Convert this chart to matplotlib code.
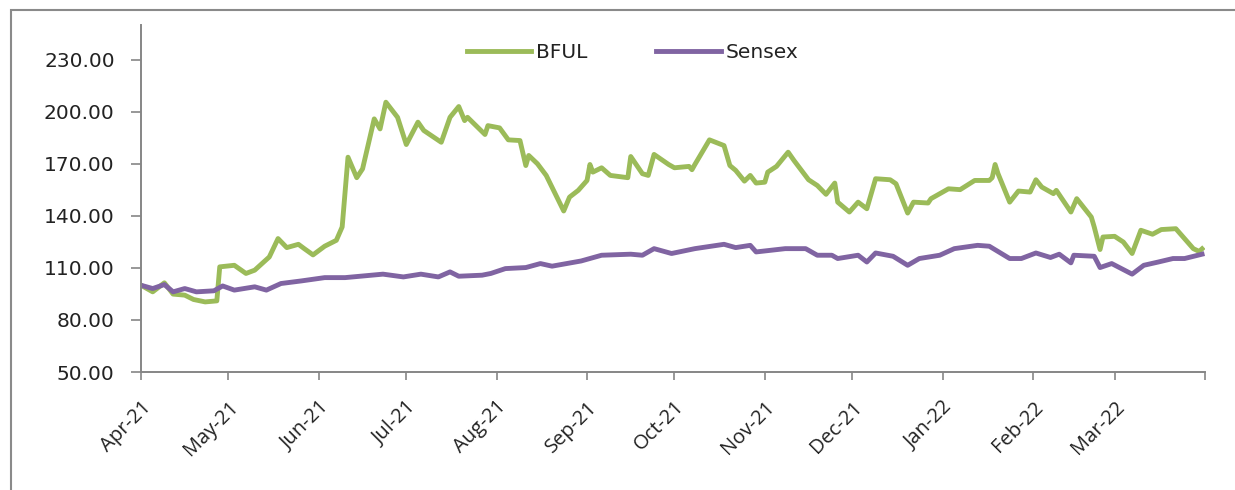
import matplotlib
matplotlib.use("Agg")
import matplotlib.pyplot as plt
import matplotlib.patches as mpatches
import pandas as pd

# BFUL vs Sensex, rebased to 100 on 1-Apr-21
bful_dates = [
    "2021-04-01", "2021-04-05", "2021-04-09", "2021-04-12", "2021-04-16", "2021-04-19",
    "2021-04-23", "2021-04-27", "2021-04-28", "2021-05-03", "2021-05-07", "2021-05-10",
    "2021-05-15", "2021-05-18", "2021-05-21", "2021-05-25", "2021-05-27", "2021-05-30",
    "2021-06-03", "2021-06-07", "2021-06-09", "2021-06-11", "2021-06-14", "2021-06-16",
    "2021-06-18", "2021-06-20", "2021-06-22", "2021-06-24", "2021-06-28", "2021-07-01",
    "2021-07-05", "2021-07-07", "2021-07-13", "2021-07-16", "2021-07-19", "2021-07-21",
    "2021-07-22", "2021-07-28", "2021-07-29", "2021-08-02", "2021-08-05", "2021-08-09",
    "2021-08-11", "2021-08-12", "2021-08-15", "2021-08-18", "2021-08-24", "2021-08-26",
    "2021-08-29", "2021-09-01", "2021-09-02", "2021-09-03", "2021-09-06", "2021-09-09",
    "2021-09-15", "2021-09-16", "2021-09-20", "2021-09-22", "2021-09-24", "2021-09-29",
    "2021-10-01", "2021-10-06", "2021-10-07", "2021-10-08", "2021-10-13", "2021-10-18",
    "2021-10-20", "2021-10-22", "2021-10-25", "2021-10-27", "2021-10-29", "2021-11-01",
    "2021-11-02", "2021-11-05", "2021-11-09", "2021-11-11", "2021-11-16", "2021-11-19",
    "2021-11-22", "2021-11-25", "2021-11-26", "2021-11-30", "2021-12-03", "2021-12-06",
    "2021-12-09", "2021-12-14", "2021-12-16", "2021-12-20", "2021-12-22", "2021-12-27",
    "2021-12-28", "2022-01-03", "2022-01-07", "2022-01-12", "2022-01-17", "2022-01-18",
    "2022-01-19", "2022-01-20", "2022-01-24", "2022-01-27", "2022-01-31", "2022-02-02",
    "2022-02-04", "2022-02-08", "2022-02-09", "2022-02-14", "2022-02-16", "2022-02-21",
    "2022-02-22", "2022-02-24", "2022-02-25", "2022-03-01", "2022-03-04", "2022-03-07",
    "2022-03-10", "2022-03-14", "2022-03-17", "2022-03-22", "2022-03-28", "2022-03-30",
    "2022-03-31",
]
bful_values = [
    100.0, 96.2, 101.4, 94.9, 94.3, 91.8,
    90.4, 91.0, 110.6, 111.5, 106.8, 108.7,
    116.3, 126.9, 121.7, 123.6, 121.1, 117.5,
    122.5, 125.9, 133.6, 173.8, 162.0, 167.1,
    181.5, 195.9, 190.1, 205.5, 196.8, 181.1,
    194.0, 189.2, 182.4, 196.8, 203.0, 194.9,
    196.8, 186.9, 192.0, 190.7, 183.8, 183.4,
    169.0, 174.8, 170.0, 163.3, 142.8, 150.8,
    154.7, 160.4, 169.6, 165.2, 167.7, 163.3,
    162.0, 174.2, 164.3, 163.3, 175.4, 169.6,
    167.7, 168.5, 166.6, 169.6, 183.8, 180.5,
    169.0, 166.2, 160.0, 163.3, 158.9, 159.4,
    165.2, 168.5, 176.7, 171.9, 160.8, 157.5,
    152.4, 158.9, 147.9, 142.2, 147.9, 144.1,
    161.4, 160.8, 158.5, 141.6, 147.9, 147.4,
    149.9, 155.6, 155.1, 160.4, 160.4, 162.0,
    169.6, 164.3, 147.9, 154.3, 153.7, 160.8,
    156.6, 152.8, 154.7, 142.2, 149.9, 139.3,
    133.6, 120.6, 127.8, 128.2, 124.9, 118.3,
    131.7, 129.4, 132.1, 132.6, 121.1, 119.5,
    121.0,
]

sensex_dates = [
    "2021-04-01", "2021-04-05", "2021-04-09", "2021-04-12", "2021-04-16", "2021-04-20",
    "2021-04-26", "2021-04-29", "2021-05-03", "2021-05-10", "2021-05-14", "2021-05-19",
    "2021-05-26", "2021-06-03", "2021-06-10", "2021-06-23", "2021-06-30", "2021-07-06",
    "2021-07-12", "2021-07-16", "2021-07-19", "2021-07-27", "2021-07-30", "2021-08-04",
    "2021-08-11", "2021-08-16", "2021-08-20", "2021-08-30", "2021-09-06", "2021-09-16",
    "2021-09-20", "2021-09-24", "2021-09-30", "2021-10-08", "2021-10-18", "2021-10-22",
    "2021-10-27", "2021-10-29", "2021-11-08", "2021-11-15", "2021-11-19", "2021-11-24",
    "2021-11-26", "2021-12-03", "2021-12-06", "2021-12-09", "2021-12-15", "2021-12-20",
    "2021-12-24", "2021-12-31", "2022-01-05", "2022-01-13", "2022-01-17", "2022-01-24",
    "2022-01-28", "2022-02-02", "2022-02-07", "2022-02-10", "2022-02-14", "2022-02-15",
    "2022-02-22", "2022-02-24", "2022-02-28", "2022-03-07", "2022-03-11", "2022-03-16",
    "2022-03-21", "2022-03-25", "2022-03-31",
]
sensex_values = [
    100.0, 98.1, 100.4, 96.2, 98.1, 96.2,
    96.8, 99.6, 97.2, 99.1, 97.2, 101.0,
    102.5, 104.4, 104.4, 106.4, 104.8, 106.4,
    104.8, 107.7, 105.2, 105.8, 106.8, 109.6,
    110.2, 112.5, 111.0, 114.0, 117.3, 117.9,
    117.3, 121.1, 118.3, 121.1, 123.6, 121.7,
    123.0, 119.2, 121.1, 121.1, 117.3, 117.3,
    115.4, 117.3, 113.4, 118.6, 116.7, 111.5,
    115.4, 117.3, 121.1, 123.0, 122.5, 115.4,
    115.4, 118.6, 116.0, 117.9, 112.9, 117.3,
    116.7, 110.2, 112.5, 106.4, 111.5, 113.4,
    115.4, 115.4, 117.9,
]

month_ticks = pd.date_range("2021-04-01", "2022-04-01", freq="MS")
month_labels = ["Apr-21", "May-21", "Jun-21", "Jul-21", "Aug-21", "Sep-21", "Oct-21",
                "Nov-21", "Dec-21", "Jan-22", "Feb-22", "Mar-22", ""]
y_ticks = [50, 80, 110, 140, 170, 200, 230]

GREEN = "#9BBB59"
PURPLE = "#8064A2"
AXIS_GREY = "#868686"

fig = plt.figure(figsize=(12.35, 4.90), dpi=100)
ax = fig.add_axes([0.1142, 0.2408, 0.8615, 0.7082])

ax.plot(pd.to_datetime(bful_dates), bful_values, color=GREEN, lw=3.5,
        solid_joinstyle="round", label="BFUL")
ax.plot(pd.to_datetime(sensex_dates), sensex_values, color=PURPLE, lw=3.5,
        solid_joinstyle="round", label="Sensex")

ax.set_xlim(month_ticks[0], month_ticks[-1])
ax.set_ylim(50, 250)
ax.set_yticks(y_ticks)
ax.set_yticklabels([f"{v:.2f}" for v in y_ticks], fontsize=14.5,
                   family="DejaVu Sans", color="#222222")
ax.set_xticks(month_ticks)
ax.set_xticklabels(month_labels, rotation=45, ha="right", va="top",
                   rotation_mode="anchor", fontsize=14.5, family="Open Sans",
                   color="#222222")

for side in ("top", "right"):
    ax.spines[side].set_visible(False)
for side in ("left", "bottom"):
    ax.spines[side].set_color(AXIS_GREY)
    ax.spines[side].set_linewidth(1.4)
ax.tick_params(axis="y", direction="out", length=7, width=1.2, color=AXIS_GREY, pad=12)
ax.tick_params(axis="x", direction="out", length=6, width=1.2, color=AXIS_GREY, pad=12)

leg = ax.legend(loc="center", bbox_to_anchor=(0.462, 0.922), ncol=2, frameon=False,
                handlelength=3.2, handletextpad=0.25, columnspacing=3.4,
                prop={"family": "DejaVu Sans", "size": 14.5})
for t in leg.get_texts():
    t.set_color("#222222")

# outer chart border (cut off at right and bottom like the source image)
fig.patches.append(mpatches.Rectangle((11 / 1235, -0.1), 1.2, 0.1 + 480 / 490,
                                      transform=fig.transFigure, fill=False,
                                      edgecolor="#8a8a8a", linewidth=1.5))

fig.savefig("out.png", dpi=100)
